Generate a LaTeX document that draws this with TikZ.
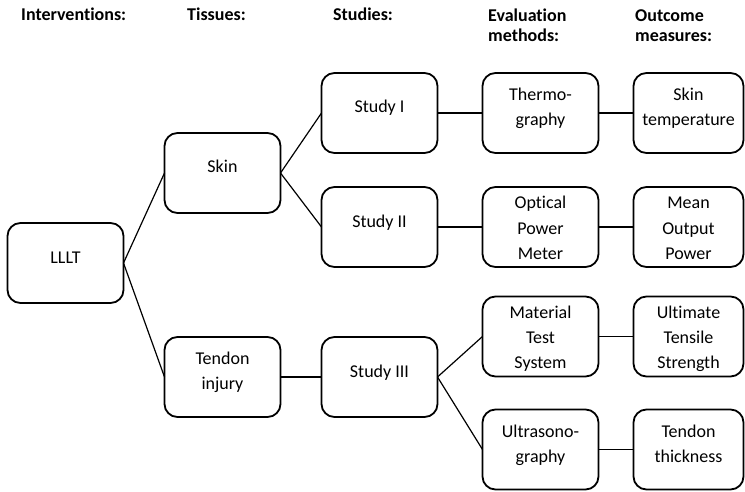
\documentclass[tikz,border=0pt]{standalone}
\usepackage{fontspec}
\setmainfont{Carlito}[Ligatures=NoCommon]
\usetikzlibrary{positioning}
\newcommand{\cell}[2][5pt]{\raisebox{#1}[\height][\depth]{\begin{tabular}{@{}c@{}}#2\end{tabular}}}

\begin{document}
\begin{tikzpicture}[
    font=\fontsize{18}{25}\selectfont,
    box/.style={draw, line width=1.8pt, rounded corners=13pt, minimum width=116pt,
      minimum height=80pt, inner sep=0pt, outer sep=0pt},
    res/.style={box, minimum width=110pt},
    head/.style={font=\fontsize{18}{20}\selectfont\bfseries, anchor=base west,
      align=left, inner sep=0pt},
    link/.style={line width=1.2pt}]
  \useasboundingbox (0,0) rectangle (745pt,-492pt);

  % column headings (base = last line)
  \node[head] (hint) at (21pt,-21pt) {Interventions:};
  \node[head] (htis) at (187pt,-21pt) {Tissues:};
  \node[head] (hstu) at (333pt,-21pt) {Studies:};
  \node[head] (heva) at (488pt,-41.5pt) {Evaluation\\methods:};
  \node[head] (hout) at (635pt,-41.5pt) {Outcome\\measures:};

  % boxes
  \node[box] (lllt) at (65.5pt,-263pt) {\cell{LLLT}};
  \node[box, right=41pt of lllt, yshift=90pt] (skin) {\cell{Skin}};
  \node[box, right=41pt of lllt, yshift=-114pt] (tendon) {\cell{Tendon\\injury}};
  \node[box, right=41pt of skin, yshift=60pt] (s1) {\cell{Study I}};
  \node[box, below=34pt of s1] (s2) {\cell{Study II}};
  \node[box, right=41pt of tendon] (s3) {\cell{Study III}};
  \node[box, right=45pt of s1] (thermo) {\cell{Thermo-\\graphy}};
  \node[box, right=45pt of s2] (opm) {\cell[-2pt]{Optical\\Power\\Meter}};
  \node[box, right=45pt of s3, yshift=40.5pt] (mts) {\cell[-2pt]{Material\\Test\\System}};
  \node[box, below=33pt of mts] (us) {\cell{Ultrasono-\\graphy}};
  \node[res, right=35pt of thermo] (temp) {\cell{Skin\\temperature}};
  \node[res, right=35pt of opm] (power) {\cell[-2pt]{Mean\\Output\\Power}};
  \node[res, right=35pt of mts] (uts) {\cell[-2pt]{Ultimate\\Tensile\\Strength}};
  \node[res, right=35pt of us] (thick) {\cell{Tendon\\thickness}};

  % links
  \draw[link] (lllt.east) -- (skin.west);
  \draw[link] (lllt.east) -- (tendon.west);
  \draw[link] (skin.east) -- (s1.west);
  \draw[link] (skin.east) -- (s2.west);
  \draw[link] (tendon) -- (s3);
  \draw[link] (s1) -- (thermo);
  \draw[link] (s2) -- (opm);
  \draw[link] (s3.east) -- (mts.west);
  \draw[link] (s3.east) -- (us.west);
  \draw[link] (thermo) -- (temp);
  \draw[link] (opm) -- (power);
  \draw[link] (mts) -- (uts);
  \draw[link] (us) -- (thick);
\end{tikzpicture}
\end{document}
